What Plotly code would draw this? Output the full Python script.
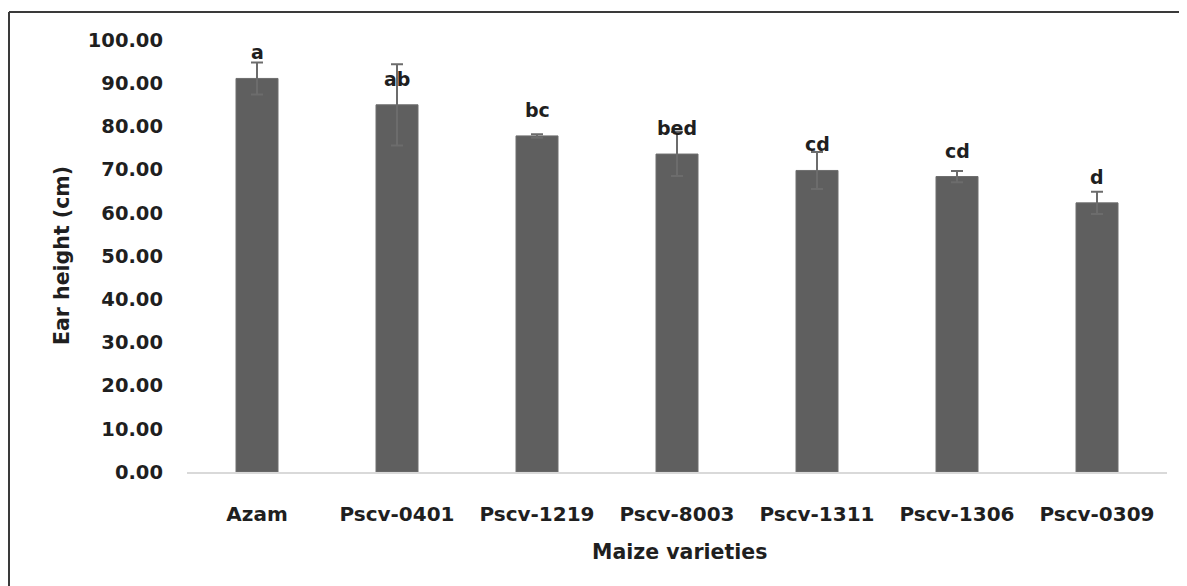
import plotly.graph_objects as go

varieties = ["Azam", "Pscv-0401", "Pscv-1219", "Pscv-8003", "Pscv-1311", "Pscv-1306", "Pscv-0309"]
ear_height = [91.1, 85.0, 77.8, 73.6, 69.8, 68.4, 62.3]
std_error = [3.7, 9.4, 0.4, 5.1, 4.3, 1.3, 2.6]
letters = ["a", "ab", "bc", "bed", "cd", "cd", "d"]
y_ticks = [0, 10, 20, 30, 40, 50, 60, 70, 80, 90, 100]

FONT = "DejaVu Sans"
TXT = "#1f1f1f"

# page body has an 8px margin; figure coordinates are screen coordinates minus 8
OFF = 8
W, H = 1179, 578
L, R, T, B = 187 - OFF, 20, 40 - OFF, 114
pw, ph = W - L - R, H - T - B


def px(x):
    return (x - OFF - L) / pw


def py(y):
    return (H - B - (y - OFF)) / ph


fig = go.Figure()
fig.add_trace(go.Bar(
    x=varieties,
    y=ear_height,
    width=0.3,
    marker=dict(color="#5f5f5f", line=dict(color="#6e6e6e", width=1)),
    error_y=dict(type="data", array=std_error, visible=True,
                 color="#6c6c6c", thickness=2, width=6),
    showlegend=False,
))

annotations = []
for v, h, lab in zip(varieties, ear_height, letters):
    annotations.append(dict(x=v, y=h, xref="x", yref="y", text=lab, showarrow=False,
                            yanchor="bottom", yshift=13,
                            font=dict(family=FONT, size=19, color=TXT, weight="bold")))

annotations.append(dict(x=px(62), y=0.5, xref="paper", yref="paper", text="Ear height (cm)",
                        textangle=-90, showarrow=False, xanchor="center", yanchor="middle",
                        font=dict(family=FONT, size=20.5, color=TXT, weight="bold")))
annotations.append(dict(x=px(679), y=py(552), xref="paper", yref="paper", text="Maize varieties",
                        showarrow=False, xanchor="center", yanchor="middle",
                        font=dict(family=FONT, size=20.5, color=TXT, weight="bold")))

shapes = [
    dict(type="line", xref="paper", yref="paper", x0=px(9), x1=px(9), y0=py(12), y1=py(600),
         line=dict(color="#3a3a3a", width=2)),
    dict(type="line", xref="paper", yref="paper", x0=px(9), x1=px(1185), y0=py(12), y1=py(12),
         line=dict(color="#3a3a3a", width=2)),
    dict(type="line", xref="paper", yref="paper", x0=px(1185), x1=px(1185), y0=py(12), y1=py(600),
         line=dict(color="#3a3a3a", width=2)),
]

fig.update_layout(
    width=W, height=H,
    margin=dict(l=L, r=R, t=T, b=B),
    paper_bgcolor="white", plot_bgcolor="white",
    bargap=0.7,
    annotations=annotations,
    shapes=shapes,
    font=dict(family=FONT, color=TXT),
)
fig.update_xaxes(
    showline=True, linecolor="#d9d9d9", linewidth=1.5,
    showgrid=False, ticks="", ticklabelstandoff=23,
    tickfont=dict(family=FONT, size=20, color=TXT, weight="bold"),
)
fig.update_yaxes(
    range=[0, 100], tickvals=y_ticks, tickformat=".2f",
    showline=False, showgrid=False, zeroline=False, ticks="",
    ticklabelstandoff=23,
    tickfont=dict(family=FONT, size=19.5, color=TXT, weight="bold"),
)

fig.write_html("out.html")
